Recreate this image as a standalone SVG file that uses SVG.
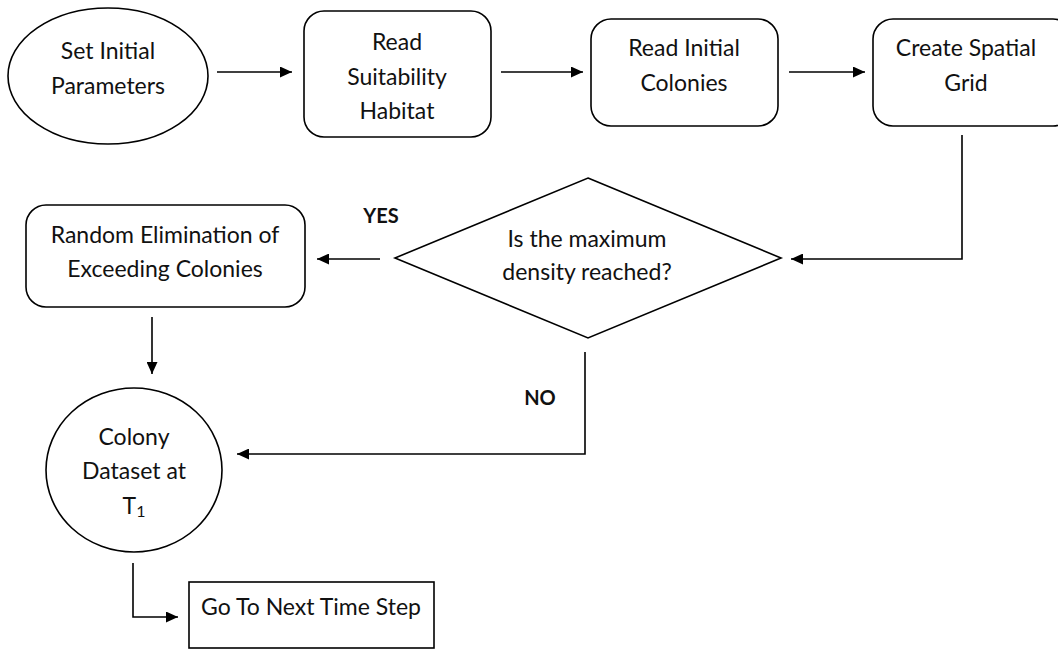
<svg xmlns="http://www.w3.org/2000/svg" width="1058" height="650" viewBox="0 0 1058 650">
<defs>
<marker id="ah" viewBox="0 0 12 11" refX="12" refY="5.5" markerWidth="12" markerHeight="11" markerUnits="userSpaceOnUse" orient="auto">
<path d="M0,0 L12,5.5 L0,11 Z" fill="#000"/>
</marker>
<style>
.s{fill:#fff;stroke:#000;stroke-width:1.6}
.t{font-family:Lato,"Liberation Sans",sans-serif;font-size:23px;fill:#111;text-anchor:middle}
.b{font-family:Lato,"Liberation Sans",sans-serif;font-size:20px;font-weight:bold;fill:#111;text-anchor:middle}
.c{fill:none;stroke:#000;stroke-width:1.6}
</style>
</defs>
<rect width="1058" height="650" fill="#fff"/>
<g id="n1"><ellipse class="s" cx="108" cy="76" rx="100" ry="68"/><text class="t" x="108" y="59">Set Initial</text><text class="t" x="108" y="94">Parameters</text></g>
<g id="n2"><rect class="s" x="304" y="11" width="187" height="126" rx="20"/><text class="t" x="397" y="50">Read</text><text class="t" x="397" y="85">Suitability</text><text class="t" x="397" y="119">Habitat</text></g>
<g id="n3"><rect class="s" x="591" y="19" width="187" height="107" rx="20"/><text class="t" x="684" y="56">Read Initial</text><text class="t" x="684" y="91">Colonies</text></g>
<g id="n4"><rect class="s" x="873" y="19" width="200" height="107" rx="20"/><text class="t" x="966" y="56">Create Spatial</text><text class="t" x="966" y="91">Grid</text></g>
<g id="n5"><polygon class="s" points="588,178 781,258 588,338 395,258"/><text class="t" x="587" y="247">Is the maximum</text><text class="t" x="587" y="280">density reached?</text></g>
<g id="n6"><rect class="s" x="26" y="205" width="279" height="102" rx="20"/><text class="t" x="165" y="243">Random Elimination of</text><text class="t" x="165" y="277">Exceeding Colonies</text></g>
<g id="n7"><ellipse class="s" cx="134" cy="470" rx="88" ry="82"/><text class="t" x="134" y="445">Colony</text><text class="t" x="134" y="479">Dataset at</text><text class="t" x="134" y="514">T<tspan font-size="16" dy="3">1</tspan></text></g>
<g id="n8"><rect class="s" x="189" y="582" width="245" height="66"/><text class="t" x="311" y="615">Go To Next Time Step</text></g>
<g id="connectors">
<line class="c" x1="217" y1="72" x2="292" y2="72" marker-end="url(#ah)"/>
<line class="c" x1="501" y1="72" x2="583" y2="72" marker-end="url(#ah)"/>
<line class="c" x1="789" y1="72" x2="865" y2="72" marker-end="url(#ah)"/>
<polyline class="c" points="962,135 962,259 791,259" marker-end="url(#ah)"/>
<line class="c" x1="380" y1="259" x2="317" y2="259" marker-end="url(#ah)"/>
<line class="c" x1="152" y1="317" x2="152" y2="374" marker-end="url(#ah)"/>
<polyline class="c" points="585,352 585,454 237,454" marker-end="url(#ah)"/>
<polyline class="c" points="133,563 133,617 178,617" marker-end="url(#ah)"/>
<text class="b" x="381" y="223">YES</text>
<text class="b" x="540" y="405">NO</text>
</g>
</svg>
